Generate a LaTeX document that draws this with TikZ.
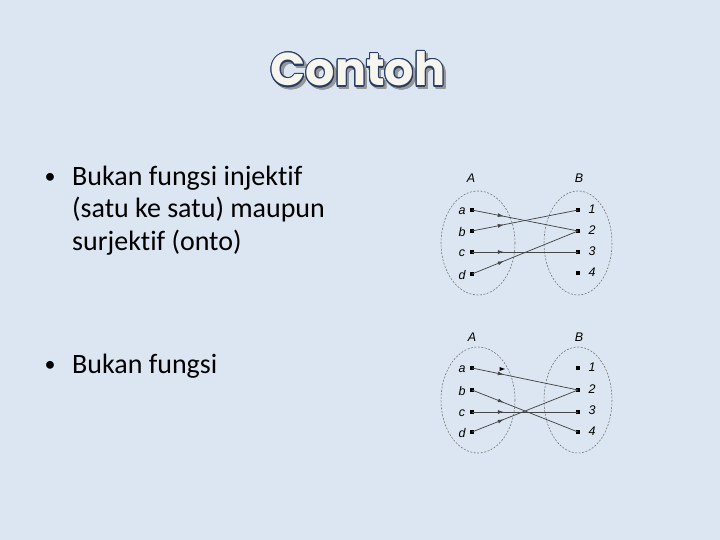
\documentclass[tikz,border=0pt]{standalone}
\usepackage{fontspec}
\setmainfont{Carlito}[Ligatures={NoCommon,NoRequired,NoContextual}]
\newfontfamily\labfont{Liberation Sans}
\newfontfamily\titlefont{Poppins}
\usepackage{contour}
\usetikzlibrary{decorations.markings,arrows.meta}
\definecolor{bg}{RGB}{220,230,242}
\definecolor{linecol}{RGB}{70,70,70}
\definecolor{ellcol}{RGB}{110,110,110}
\definecolor{titleblue}{RGB}{40,60,100}
\definecolor{cream}{RGB}{246,246,238}
\definecolor{shadowgray}{RGB}{150,150,150}
\tikzset{
  dotpt/.style={rectangle,fill=black,inner sep=0pt,minimum size=3.6pt},
  setell/.style={draw=ellcol,line width=0.55pt,dash pattern=on 2pt off 1.5pt},
  ptlab/.style={font=\labfont\itshape\fontsize{12.5}{13}\selectfont,text=black,inner sep=0pt},
  maparrow/.style={draw=linecol,line width=0.75pt,postaction={decorate},
    decoration={markings,mark=at position #1 with {\arrow{Latex[length=6pt,width=4pt]}}}},
  maparrow/.default=0.3,
  bodytext/.style={font=\fontsize{28}{32}\selectfont,text=black,anchor=base west,inner sep=0pt},
  bulletmark/.style={font=\fontsize{22}{26}\selectfont,anchor=base,inner sep=0pt},
}
\begin{document}
\begin{tikzpicture}[x=1pt,y=-1pt]
\fill[bg] (0,0) rectangle (720,540);
\useasboundingbox (0,0) rectangle (720,540);

% title
\node[font=\titlefont\bfseries\fontsize{46}{50}\selectfont,inner sep=0pt] (title) at (358,71)
  {\makebox[0pt][l]{\hspace{2.5pt}\raisebox{-2.5pt}{\contourlength{1.2pt}\contour{shadowgray}{\textcolor{shadowgray}{Contoh}}}}\contourlength{1.1pt}\contour{titleblue}{\textcolor{cream}{Contoh}}};

% bullets
\node[bulletmark] (bul1) at (50,184) {\textbullet};
\node[bodytext] (txt1) at (72,186) {\parbox[t]{300pt}{\raggedright Bukan fungsi injektif\\(satu ke satu) maupun\\surjektif (onto)}};
\node[bulletmark] (bul2) at (50,371) {\textbullet};
\node[bodytext] (txt2) at (72,373) {Bukan fungsi};

% ---------- diagram 1 ----------
\draw[setell] (478,243) ellipse [x radius=37,y radius=52];
\draw[setell] (578,243) ellipse [x radius=34,y radius=52];
\node[ptlab] (A1) at (471,178) {A};
\node[ptlab] (B1) at (579,178) {B};
\node[dotpt] (pa1) at (472,210) {};
\node[dotpt] (pb1) at (472,231) {};
\node[dotpt] (pc1) at (472,252) {};
\node[dotpt] (pd1) at (472,274) {};
\node[dotpt] (q11) at (578,210) {};
\node[dotpt] (q21) at (578,231) {};
\node[dotpt] (q31) at (578,252) {};
\node[dotpt] (q41) at (578,273) {};
\node[ptlab] at (462,211) {a};
\node[ptlab] at (462,232) {b};
\node[ptlab] at (462,253) {c};
\node[ptlab] at (462,275) {d};
\node[ptlab] at (592,209) {1};
\node[ptlab] at (592,230) {2};
\node[ptlab] at (592,251) {3};
\node[ptlab] at (592,272) {4};
\draw[maparrow] (pa1.center) -- (q21.center);
\draw[maparrow] (pb1.center) -- (q11.center);
\draw[maparrow] (pc1.center) -- (q31.center);
\draw[maparrow] (pd1.center) -- (q21.center);

% ---------- diagram 2 ----------
\draw[setell] (478,400) ellipse [x radius=37,y radius=53];
\draw[setell] (578,400) ellipse [x radius=34,y radius=53];
\node[ptlab] (A2) at (472,337) {A};
\node[ptlab] (B2) at (579,337) {B};
\node[dotpt] (pa2) at (472,368) {};
\node[dotpt] (pb2) at (472,390) {};
\node[dotpt] (pc2) at (472,412) {};
\node[dotpt] (pd2) at (472,432) {};
\node[dotpt] (q12) at (578,368) {};
\node[dotpt] (q22) at (578,390) {};
\node[dotpt] (q32) at (578,412) {};
\node[dotpt] (q42) at (578,432) {};
\node[ptlab] at (462,369) {a};
\node[ptlab] at (462,391) {b};
\node[ptlab] at (462,413) {c};
\node[ptlab] at (462,433) {d};
\node[ptlab] at (592,367) {1};
\node[ptlab] at (592,389) {2};
\node[ptlab] at (592,410) {3};
\node[ptlab] at (592,431) {4};
\draw[maparrow] (pa2.center) -- (q22.center);
\draw[maparrow] (pb2.center) -- (q42.center);
\draw[maparrow] (pc2.center) -- (q32.center);
\draw[maparrow] (pd2.center) -- (q22.center);
\coordinate (stray) at (505,369);
\fill[black] (stray) -- ++(-5.5,-2) -- ++(0,4) -- cycle;
\end{tikzpicture}
\end{document}
